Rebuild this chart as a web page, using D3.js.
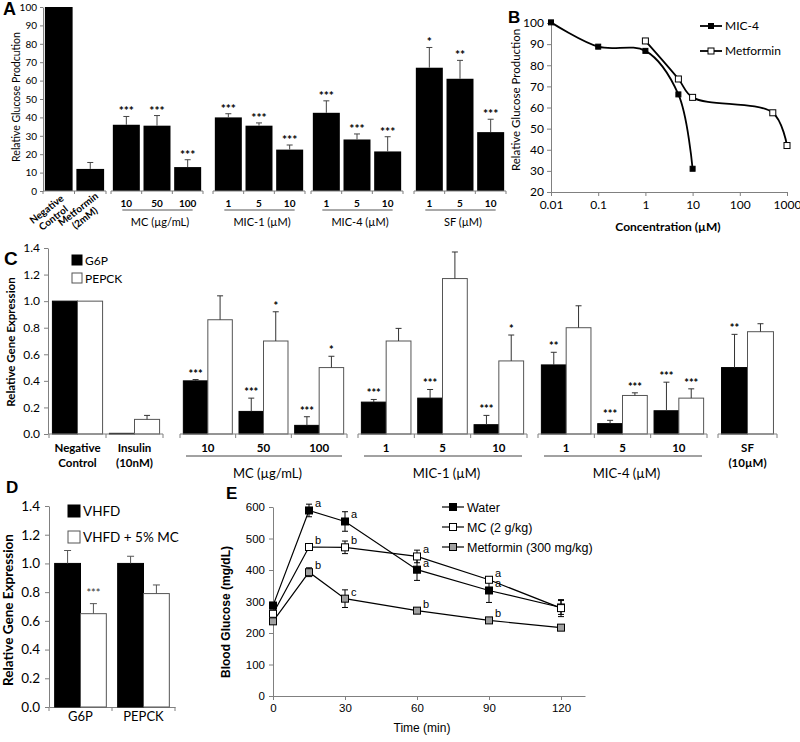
<!DOCTYPE html>
<html>
<head>
<meta charset="utf-8" />
<title>Glucose production and gene expression</title>
<script src="https://d3js.org/d3.v7.min.js"></script>
<style>
  body { margin: 0; background: #fff; }
</style>
</head>
<body>
<script>
// ---------- A: relative glucose production ----------
var aGroupNames = ["", "MC (µg/mL)", "MIC-1 (µM)", "MIC-4 (µM)", "SF (µM)"];
var aLabels = [["Negative\nControl", "Metformin\n(2mM)"], ["10", "50", "100"], ["1", "5", "10"], ["1", "5", "10"], ["1", "5", "10"]];
var aValues = [[100, 12], [36, 35.5, 13], [40, 35.5, 22.5], [42.5, 28, 21.5], [67, 61, 32]];
var aErrors = [[0, 3.5], [4.5, 5.5, 4], [2, 1.5, 2.5], [6.5, 3, 8], [11, 10, 7]];
var aStars = [["", ""], ["***", "***", "***"], ["***", "***", "***"], ["***", "***", "***"], ["*", "**", "***"]];

// ---------- B: dose response ----------
var bConcMIC4 = [0.01, 0.1, 1, 5, 10];
var bMIC4 = [100.3, 88.8, 86.8, 66.2, 31];
var bConcMet = [1, 5, 10, 500, 1000];
var bMet = [91.5, 73.5, 64.8, 57.5, 42];
var bTicks = [0.01, 0.1, 1, 10, 100, 1000];
var bSeries = ["MIC-4", "Metformin"];

// ---------- C: gene expression in cells ----------
var cGroupNames = ["", "MC (µg/mL)", "MIC-1 (µM)", "MIC-4 (µM)", ""];
var cLabels = [["Negative\nControl", "Insulin\n(10nM)"], ["10", "50", "100"], ["1", "5", "10"], ["1", "5", "10"], ["SF\n(10µM)"]];
var cSeries = ["G6P", "PEPCK"];
var cG6P = [[1.0, 0.005], [0.40, 0.17, 0.065], [0.24, 0.27, 0.07], [0.52, 0.078, 0.175], [0.50]];
var cG6PErr = [[0, 0], [0.01, 0.10, 0.065], [0.02, 0.065, 0.07], [0.095, 0.025, 0.215], [0.25]];
var cPEPCK = [[1.0, 0.11], [0.86, 0.70, 0.50], [0.70, 1.17, 0.55], [0.80, 0.29, 0.27], [0.77]];
var cPEPCKErr = [[0, 0.03], [0.18, 0.22, 0.085], [0.095, 0.20, 0.195], [0.165, 0.02, 0.07], [0.06]];
var cG6PStars = [["", ""], ["***", "***", "***"], ["***", "***", "***"], ["**", "***", "***"], ["**"]];
var cPEPCKStars = [["", ""], ["", "*", "*"], ["", "", "*"], ["", "***", "***"], [""]];

// ---------- D: gene expression in vivo ----------
var dGenes = ["G6P", "PEPCK"];
var dSeries = ["VHFD", "VHFD + 5% MC"];
var dVHFD = [1.0, 1.0];
var dVHFDErr = [0.09, 0.05];
var dMC = [0.65, 0.79];
var dMCErr = [0.07, 0.06];
var dMCStars = ["***", ""];

// ---------- E: blood glucose ----------
var eTimes = [0, 15, 30, 60, 90, 120];
var eSeries = ["Water", "MC (2 g/kg)", "Metformin (300 mg/kg)"];
var eWater = [287, 589, 554, 401, 335, 281];
var eWaterErr = [10, 20, 31, 34, 38, 22];
var eMC = [261, 473, 472, 443, 369, 279];
var eMCErr = [8, 10, 20, 20, 9, 27];
var eMet = [237, 393, 309, 271, 240, 217];
var eMetErr = [8, 14, 28, 8, 5, 5];
var eWaterSig = ["", "a", "a", "a", "a", ""];
var eMCSig = ["", "b", "b", "a", "a", ""];
var eMetSig = ["", "b", "c", "b", "b", ""];

var CAL = "Lato, 'Open Sans', sans-serif";
var ARI = "'Liberation Sans', Arial, sans-serif";
var AXC = "#808080";

var svg = d3.select("body").append("svg").attr("width", 800).attr("height", 742);
svg.append("rect").attr("width", 800).attr("height", 742).attr("fill", "#fff");

function styleAxis(g, size, family) {
  g.attr("font-family", family).attr("font-size", size);
  g.selectAll(".domain, .tick line").attr("stroke", AXC);
  g.selectAll("text").attr("fill", "#000");
}

function panelLetter(t, x, y, size) {
  svg.append("text").attr("x", x).attr("y", y).attr("font-family", ARI)
    .attr("font-weight", "bold").attr("font-size", size || 17).text(t);
}

function multiLine(sel, str, lh) {
  str.split("\n").forEach(function (s, i) {
    sel.append("tspan").attr("x", sel.attr("x")).attr("dy", i ? lh : 0).text(s);
  });
}

function errBar(g, x, y0, y1, cap, color) {
  g.append("line").attr("x1", x).attr("x2", x).attr("y1", y0).attr("y2", y1)
    .attr("stroke", color).attr("stroke-width", 1);
  g.append("line").attr("x1", x - cap / 2).attr("x2", x + cap / 2).attr("y1", y1).attr("y2", y1)
    .attr("stroke", color).attr("stroke-width", 1);
}

// ================= Panel A =================
(function () {
  var y = d3.scaleLinear().domain([0, 100]).range([191, 7]);
  var segs = [[43, 106], [111, 203], [213, 305], [311, 403], [414, 506]];
  var gA = svg.append("g");

  gA.append("g").attr("transform", "translate(43,0)")
    .call(d3.axisLeft(y).tickValues(d3.range(0, 101, 10)).tickSize(3).tickSizeOuter(0).tickPadding(3))
    .call(function (g) { styleAxis(g, 10, CAL); });

  gA.append("text").attr("transform", "translate(20,97) rotate(-90)")
    .attr("text-anchor", "middle").attr("font-family", CAL).attr("font-size", 10.5)
    .text("Relative Glucose Prodcution");

  aValues.forEach(function (vals, gi) {
    var x = d3.scaleBand().domain(d3.range(vals.length)).range(segs[gi])
      .paddingInner(0.12).paddingOuter(0.06);
    var g = gA.append("g");
    var step = x.step();

    g.selectAll("rect").data(vals).join("rect")
      .attr("x", function (d, i) { return x(i); })
      .attr("y", function (d) { return y(d); })
      .attr("width", x.bandwidth())
      .attr("height", function (d) { return y(0) - y(d); })
      .attr("fill", "#000");

    vals.forEach(function (v, i) {
      var cx = x(i) + x.bandwidth() / 2;
      var e = aErrors[gi][i];
      if (e > 0) errBar(g, cx, y(v), y(v + e), 6, "#444");
      if (aStars[gi][i]) {
        g.append("text").attr("x", cx).attr("y", y(v + e) - 1).attr("text-anchor", "middle")
          .attr("font-family", CAL).attr("font-weight", "bold").attr("font-size", 12)
          .text(aStars[gi][i]);
      }
    });

    // axis segment with boundary ticks
    g.append("line").attr("x1", segs[gi][0]).attr("x2", segs[gi][1]).attr("y1", y(0)).attr("y2", y(0))
      .attr("stroke", AXC);
    d3.range(vals.length + 1).forEach(function (i) {
      var px = segs[gi][0] + i * step;
      g.append("line").attr("x1", px).attr("x2", px).attr("y1", y(0)).attr("y2", y(0) + 3).attr("stroke", AXC);
    });

    if (gi === 0) {
      aLabels[gi].forEach(function (lab, i) {
        var cx = x(i) + x.bandwidth() / 2;
        var t = g.append("text").attr("transform", "translate(" + (cx - 10) + ",212) rotate(-38)")
          .attr("x", 0).attr("y", 0).attr("text-anchor", "middle")
          .attr("font-family", CAL).attr("font-weight", "bold").attr("font-size", 10);
        multiLine(t, lab, 11);
      });
    } else {
      aLabels[gi].forEach(function (lab, i) {
        g.append("text").attr("x", x(i) + x.bandwidth() / 2).attr("y", 207).attr("text-anchor", "middle")
          .attr("font-family", CAL).attr("font-weight", "bold").attr("font-size", 10).text(lab);
      });
      var first = x(0) + x.bandwidth() / 2, last = x(vals.length - 1) + x.bandwidth() / 2;
      g.append("line").attr("x1", first - 4).attr("x2", last + 5).attr("y1", 210).attr("y2", 210)
        .attr("stroke", "#555");
      g.append("text").attr("x", x(1) + x.bandwidth() / 2 + 3).attr("y", 226).attr("text-anchor", "middle")
        .attr("font-family", CAL).attr("font-size", 11).text(aGroupNames[gi]);
    }
  });
  panelLetter("A", 3, 15, 18);
})();

// ================= Panel B =================
(function () {
  var x = d3.scaleLog().domain([0.01, 1000]).range([551, 787]);
  var y = d3.scaleLinear().domain([20, 100]).range([192, 23]);
  var gB = svg.append("g");

  gB.append("g").attr("transform", "translate(551,0)")
    .call(d3.axisLeft(y).tickValues(d3.range(20, 101, 10)).tickSize(4).tickSizeOuter(0).tickPadding(3))
    .call(function (g) { styleAxis(g, 12, CAL); });
  gB.append("g").attr("transform", "translate(0,192)")
    .call(d3.axisBottom(x).tickValues(bTicks).tickFormat(d3.format("~g")).tickSize(4).tickSizeOuter(0).tickPadding(4))
    .call(function (g) { styleAxis(g, 12, CAL); });

  gB.append("text").attr("transform", "translate(520,100) rotate(-90)")
    .attr("text-anchor", "middle").attr("font-family", CAL).attr("font-size", 11.5)
    .text("Relative Glucose Production");
  gB.append("text").attr("x", 668).attr("y", 231).attr("text-anchor", "middle")
    .attr("font-family", CAL).attr("font-weight", "bold").attr("font-size", 12)
    .text("Concentration (µM)");

  var line = d3.line().x(function (d) { return x(d[0]); }).y(function (d) { return y(d[1]); })
    .curve(d3.curveCatmullRom.alpha(0.5));
  var sets = [
    { pts: d3.zip(bConcMIC4, bMIC4), fill: "#000", size: 5 },
    { pts: d3.zip(bConcMet, bMet), fill: "#fff", size: 6 }
  ];
  sets.forEach(function (s) {
    gB.append("path").attr("d", line(s.pts)).attr("fill", "none").attr("stroke", "#000").attr("stroke-width", 1.8);
  });
  sets.forEach(function (s) {
    gB.selectAll(null).data(s.pts).join("rect")
      .attr("x", function (d) { return x(d[0]) - s.size / 2; })
      .attr("y", function (d) { return y(d[1]) - s.size / 2; })
      .attr("width", s.size).attr("height", s.size)
      .attr("fill", s.fill).attr("stroke", "#000").attr("stroke-width", 1);
  });

  bSeries.forEach(function (name, i) {
    var ly = 26 + i * 25, s = sets[i];
    gB.append("line").attr("x1", 700).attr("x2", 722).attr("y1", ly).attr("y2", ly)
      .attr("stroke", "#000").attr("stroke-width", 1.8);
    gB.append("rect").attr("x", 711 - s.size / 2).attr("y", ly - s.size / 2).attr("width", s.size).attr("height", s.size)
      .attr("fill", s.fill).attr("stroke", "#000");
    gB.append("text").attr("x", 725).attr("y", ly + 4).attr("font-family", CAL).attr("font-size", 12).text(name);
  });
  panelLetter("B", 508, 23, 17);
})();

// ================= Panel C =================
(function () {
  var y = d3.scaleLinear().domain([0, 1.4]).range([434, 248]);
  var segs = [[49, 163], [180, 347], [358, 527], [538, 707], [718, 777]];
  var gC = svg.append("g");

  gC.append("g").attr("transform", "translate(48,0)")
    .call(d3.axisLeft(y).tickValues(d3.range(0, 1.41, 0.2)).tickFormat(d3.format(".1f"))
      .tickSize(4).tickSizeOuter(0).tickPadding(4))
    .call(function (g) { styleAxis(g, 12, CAL); });

  gC.append("text").attr("transform", "translate(15,342) rotate(-90)")
    .attr("text-anchor", "middle").attr("font-family", CAL).attr("font-weight", "bold").attr("font-size", 11.5)
    .text("Relative Gene Expression");

  var seriesVals = [cG6P, cPEPCK], seriesErr = [cG6PErr, cPEPCKErr], seriesStars = [cG6PStars, cPEPCKStars];
  var fills = ["#000", "#fff"];

  cG6P.forEach(function (vals, gi) {
    var x = d3.scaleBand().domain(d3.range(vals.length)).range(segs[gi]).paddingInner(0.12).paddingOuter(0.06);
    var xs = d3.scaleBand().domain(cSeries).range([0, x.bandwidth()]);
    var g = gC.append("g");

    vals.forEach(function (v, i) {
      cSeries.forEach(function (s, si) {
        var val = seriesVals[si][gi][i];
        g.append("rect").attr("x", x(i) + xs(s)).attr("y", y(val)).attr("width", xs.bandwidth())
          .attr("height", y(0) - y(val)).attr("fill", fills[si])
          .attr("stroke", si ? "#555" : "#000").attr("stroke-width", 1);
      });
    });
    vals.forEach(function (v, i) {
      cSeries.forEach(function (s, si) {
        var val = seriesVals[si][gi][i], e = seriesErr[si][gi][i];
        var cx = x(i) + xs(s) + xs.bandwidth() / 2;
        if (e > 0) errBar(g, cx, y(val), y(val + e), 6, "#333");
        var st = seriesStars[si][gi][i];
        if (st) {
          g.append("text").attr("x", cx).attr("y", y(val + e) - 2).attr("text-anchor", "middle")
            .attr("font-family", CAL).attr("font-weight", "bold").attr("font-size", 11).text(st);
        }
      });
    });

    g.append("line").attr("x1", segs[gi][0]).attr("x2", segs[gi][1]).attr("y1", y(0)).attr("y2", y(0)).attr("stroke", AXC);
    d3.range(vals.length + 1).forEach(function (i) {
      var px = segs[gi][0] + i * x.step();
      g.append("line").attr("x1", px).attr("x2", px).attr("y1", y(0)).attr("y2", y(0) + 4).attr("stroke", AXC);
    });

    cLabels[gi].forEach(function (lab, i) {
      var t = g.append("text").attr("x", x(i) + x.bandwidth() / 2).attr("y", 452).attr("text-anchor", "middle")
        .attr("font-family", CAL).attr("font-weight", "bold").attr("font-size", 11.5);
      multiLine(t, lab, 15);
    });
    if (cGroupNames[gi]) {
      g.append("line").attr("x1", segs[gi][0] + 6).attr("x2", segs[gi][1] - 5).attr("y1", 456).attr("y2", 456)
        .attr("stroke", "#444");
      g.append("text").attr("x", x(1) + x.bandwidth() / 2 + 4).attr("y", 478).attr("text-anchor", "middle")
        .attr("font-family", CAL).attr("font-size", 13).text(cGroupNames[gi]);
    }
  });

  cSeries.forEach(function (name, i) {
    var ly = 260 + i * 18;
    gC.append("rect").attr("x", 72).attr("y", ly - 5).attr("width", 10).attr("height", 10)
      .attr("fill", fills[i]).attr("stroke", i ? "#555" : "#000");
    gC.append("text").attr("x", 85).attr("y", ly + 4.5).attr("font-family", CAL).attr("font-size", 12).text(name);
  });
  panelLetter("C", 4, 265, 19);
})();

// ================= Panel D =================
(function () {
  var y = d3.scaleLinear().domain([0, 1.4]).range([707, 506]);
  var x = d3.scaleBand().domain(dGenes).range([49, 175]).paddingInner(0.18).paddingOuter(0.09);
  var xs = d3.scaleBand().domain(dSeries).range([0, x.bandwidth()]);
  var gD = svg.append("g");

  gD.append("g").attr("transform", "translate(49,0)")
    .call(d3.axisLeft(y).tickValues(d3.range(0, 1.41, 0.2)).tickFormat(d3.format(".1f"))
      .tickSize(4).tickSizeOuter(0).tickPadding(5))
    .call(function (g) { styleAxis(g, 13.5, CAL); });
  gD.append("g").attr("transform", "translate(0,707)")
    .call(d3.axisBottom(x).tickSize(0).tickSizeOuter(0).tickPadding(5))
    .call(function (g) { styleAxis(g, 13, CAL); });
  d3.range(dGenes.length + 1).forEach(function (i) {
    var px = 49 + i * x.step();
    gD.append("line").attr("x1", px).attr("x2", px).attr("y1", 707).attr("y2", 711).attr("stroke", AXC);
  });

  gD.append("text").attr("transform", "translate(13,610) rotate(-90)")
    .attr("text-anchor", "middle").attr("font-family", CAL).attr("font-weight", "bold").attr("font-size", 13.5)
    .text("Relative Gene Expression");

  var vals = [dVHFD, dMC], errs = [dVHFDErr, dMCErr], fills = ["#000", "#fff"];
  dGenes.forEach(function (gene, i) {
    dSeries.forEach(function (s, si) {
      var v = vals[si][i];
      gD.append("rect").attr("x", x(gene) + xs(s)).attr("y", y(v)).attr("width", xs.bandwidth())
        .attr("height", y(0) - y(v)).attr("fill", fills[si]).attr("stroke", si ? "#555" : "#000");
    });
    dSeries.forEach(function (s, si) {
      var v = vals[si][i], e = errs[si][i], cx = x(gene) + xs(s) + xs.bandwidth() / 2;
      errBar(gD, cx, y(v), y(v + e), 7, "#555");
      if (si === 1 && dMCStars[i]) {
        gD.append("text").attr("x", cx).attr("y", y(v + e) - 7).attr("text-anchor", "middle")
          .attr("font-family", CAL).attr("font-size", 11).attr("fill", "#333").text(dMCStars[i]);
      }
    });
  });

  dSeries.forEach(function (name, i) {
    var ly = 511 + i * 26;
    gD.append("rect").attr("x", 68).attr("y", ly - 6).attr("width", 12).attr("height", 12)
      .attr("fill", fills[i]).attr("stroke", i ? "#555" : "#000");
    gD.append("text").attr("x", 83).attr("y", ly + 5).attr("font-family", CAL).attr("font-size", 13.5).text(name);
  });
  panelLetter("D", 6, 493, 17);
})();

// ================= Panel E =================
(function () {
  var x = d3.scaleLinear().domain([0, 130]).range([273, 585]);
  var y = d3.scaleLinear().domain([0, 600]).range([696, 507]);
  var gE = svg.append("g");

  gE.append("g").attr("transform", "translate(273,0)")
    .call(d3.axisLeft(y).tickValues(d3.range(0, 601, 100)).tickSize(4).tickSizeOuter(0).tickPadding(4))
    .call(function (g) { styleAxis(g, 11.5, ARI); });
  gE.append("g").attr("transform", "translate(0,696)")
    .call(d3.axisBottom(x).tickValues([0, 30, 60, 90, 120]).tickSize(4).tickSizeOuter(0).tickPadding(4))
    .call(function (g) { styleAxis(g, 11.5, ARI); });

  gE.append("text").attr("transform", "translate(230,612) rotate(-90)")
    .attr("text-anchor", "middle").attr("font-family", ARI).attr("font-weight", "bold").attr("font-size", 12)
    .text("Blood Glucose (mg/dL)");
  gE.append("text").attr("x", 422).attr("y", 732).attr("text-anchor", "middle")
    .attr("font-family", ARI).attr("font-size", 12).text("Time (min)");

  var series = [
    { v: eWater, e: eWaterErr, sig: eWaterSig, fill: "#000" },
    { v: eMC, e: eMCErr, sig: eMCSig, fill: "#fff" },
    { v: eMet, e: eMetErr, sig: eMetSig, fill: "#a0a0a0" }
  ];
  var line = d3.line().x(function (d) { return x(d[0]); }).y(function (d) { return y(d[1]); });

  series.forEach(function (s) {
    gE.append("path").attr("d", line(d3.zip(eTimes, s.v))).attr("fill", "none")
      .attr("stroke", "#000").attr("stroke-width", 1.2);
  });
  series.forEach(function (s) {
    eTimes.forEach(function (t, i) {
      var cx = x(t);
      errBar(gE, cx, y(s.v[i] - s.e[i]), y(s.v[i] + s.e[i]), 6, "#000");
      gE.append("line").attr("x1", cx - 3).attr("x2", cx + 3).attr("y1", y(s.v[i] - s.e[i])).attr("y2", y(s.v[i] - s.e[i]))
        .attr("stroke", "#000");
    });
  });
  series.forEach(function (s) {
    gE.selectAll(null).data(d3.zip(eTimes, s.v)).join("rect")
      .attr("x", function (d) { return x(d[0]) - 3.5; })
      .attr("y", function (d) { return y(d[1]) - 3.5; })
      .attr("width", 7).attr("height", 7)
      .attr("fill", s.fill).attr("stroke", "#000").attr("stroke-width", 1);
    eTimes.forEach(function (t, i) {
      if (s.sig[i]) {
        gE.append("text").attr("x", x(t) + 6).attr("y", y(s.v[i]) - 3)
          .attr("font-family", ARI).attr("font-size", 11).text(s.sig[i]);
      }
    });
  });

  eSeries.forEach(function (name, i) {
    var ly = 507 + i * 20, s = series[i];
    gE.append("line").attr("x1", 442).attr("x2", 464).attr("y1", ly).attr("y2", ly).attr("stroke", "#000").attr("stroke-width", 1.2);
    gE.append("rect").attr("x", 449.5).attr("y", ly - 3.5).attr("width", 7).attr("height", 7)
      .attr("fill", s.fill).attr("stroke", "#000");
    gE.append("text").attr("x", 467).attr("y", ly + 4.5).attr("font-family", ARI).attr("font-size", 12.5).text(name);
  });
  panelLetter("E", 226, 499, 17);
})();
</script>
</body>
</html>
